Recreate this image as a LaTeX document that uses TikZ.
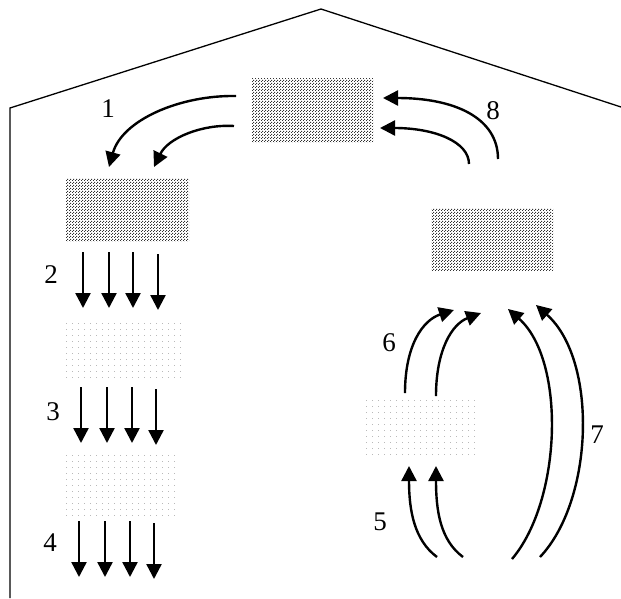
\documentclass[tikz,border=0pt]{standalone}
\usepackage{fontspec}
\setmainfont{Liberation Serif}
\usetikzlibrary{arrows.meta,patterns.meta}
\tikzdeclarepattern{
  name=densedots, type=uncolored,
  bottom left={(0pt,0pt)}, top right={(3pt,3pt)}, tile size={(3pt,3pt)},
  code={\fill (0pt,0pt) rectangle (1.2pt,1.2pt); \fill (1.5pt,1.5pt) rectangle (2.7pt,2.7pt);}
}
\tikzdeclarepattern{
  name=sparsedots, type=uncolored,
  bottom left={(0pt,0pt)}, top right={(6pt,5.5pt)}, tile size={(6pt,5.5pt)},
  code={\fill (0pt,0pt) rectangle (0.8pt,0.8pt);}
}
\begin{document}
\begin{tikzpicture}[x=1pt,y=-1pt,
  densebox/.style={inner sep=0pt, pattern=densedots, pattern color=black!80},
  sparsebox/.style={inner sep=0pt, pattern=sparsedots, pattern color=black!65},
  arr/.style={line width=2.4pt, -{Triangle[length=15pt,width=15pt]}},
  lbl/.style={font=\fontsize{27}{27}\selectfont, inner sep=0pt}]
\useasboundingbox (0,0) rectangle (621,598);
% house outline
\draw[line width=1.3pt, line join=miter] (10,598) -- (10,108) -- (321,9) -- (621,107);
% boxes
\node[densebox, minimum width=121pt, minimum height=64pt] (top) at (312.5,110) {};
\node[densebox, minimum width=123pt, minimum height=63pt] (left1) at (127.5,209.5) {};
\node[densebox, minimum width=122pt, minimum height=62pt] (right) at (492,239) {};
\node[sparsebox, minimum width=122pt, minimum height=58pt] (left2) at (124.5,350) {};
\node[sparsebox, minimum width=116pt, minimum height=62pt] (left3) at (121.5,485) {};
\node[sparsebox, minimum width=116pt, minimum height=56pt] (small) at (421,428.5) {};
% labels
\node[lbl] (l1) at (108,109) {1};
\node[lbl] (l8) at (493,111) {8};
\node[lbl] (l2) at (51,275) {2};
\node[lbl] (l3) at (53,412) {3};
\node[lbl] (l4) at (50,543) {4};
\node[lbl] (l5) at (380,522) {5};
\node[lbl] (l6) at (389,343) {6};
\node[lbl] (l7) at (597,435) {7};
% arrows 1
\coordinate (a1s) at (236,96);  \coordinate (a1e) at (109,167);
\coordinate (b1s) at (234,126); \coordinate (b1e) at (154,167);
\draw[arr] (a1s) .. controls (180,95) and (122,120) .. (a1e);
\draw[arr] (b1s) .. controls (202,124) and (168,138) .. (b1e);
% arrows 8
\coordinate (a8s) at (498,159); \coordinate (a8e) at (383,98);
\coordinate (b8s) at (469,164); \coordinate (b8e) at (380,128);
\draw[arr] (a8s) .. controls (498,118) and (455,98) .. (a8e);
\draw[arr] (b8s) .. controls (469,142) and (435,128) .. (b8e);
% arrows 2,3,4
\foreach \x/\i in {83/1,109/2,133/3}{
  \coordinate (s2\i) at (\x,252); \coordinate (e2\i) at (\x,308);
  \draw[arr] (s2\i) -- (e2\i);}
\coordinate (s24) at (158,254); \coordinate (e24) at (158,310);
\draw[arr] (s24) -- (e24);
\foreach \x/\i in {81/1,107/2,132/3}{
  \coordinate (s3\i) at (\x,387); \coordinate (e3\i) at (\x,443);
  \draw[arr] (s3\i) -- (e3\i);}
\coordinate (s34) at (156,389); \coordinate (e34) at (156,445);
\draw[arr] (s34) -- (e34);
\foreach \x/\i in {79/1,105/2,130/3}{
  \coordinate (s4\i) at (\x,521); \coordinate (e4\i) at (\x,577);
  \draw[arr] (s4\i) -- (e4\i);}
\coordinate (s44) at (154,523); \coordinate (e44) at (154,579);
\draw[arr] (s44) -- (e44);
% arrows 6
\coordinate (a6s) at (405,393); \coordinate (a6e) at (454,310);
\coordinate (b6s) at (436,396); \coordinate (b6e) at (481,313);
\draw[arr] (a6s) .. controls (405,345) and (423,320) .. (a6e);
\draw[arr] (b6s) .. controls (436,350) and (452,324) .. (b6e);
% arrows 5
\coordinate (a5s) at (437,557); \coordinate (a5e) at (409,466);
\coordinate (b5s) at (463,557); \coordinate (b5e) at (436,466);
\draw[arr] (a5s) .. controls (414,540) and (409,510) .. (a5e);
\draw[arr] (b5s) .. controls (440,540) and (436,510) .. (b5e);
% arrows 7
\coordinate (a7s) at (512,559); \coordinate (a7e) at (508,309);
\coordinate (b7s) at (540,557); \coordinate (b7e) at (536,305);
\draw[arr] (a7s) .. controls (562,500) and (566,360) .. (a7e);
\draw[arr] (b7s) .. controls (594,500) and (598,360) .. (b7e);
\end{tikzpicture}
\end{document}
